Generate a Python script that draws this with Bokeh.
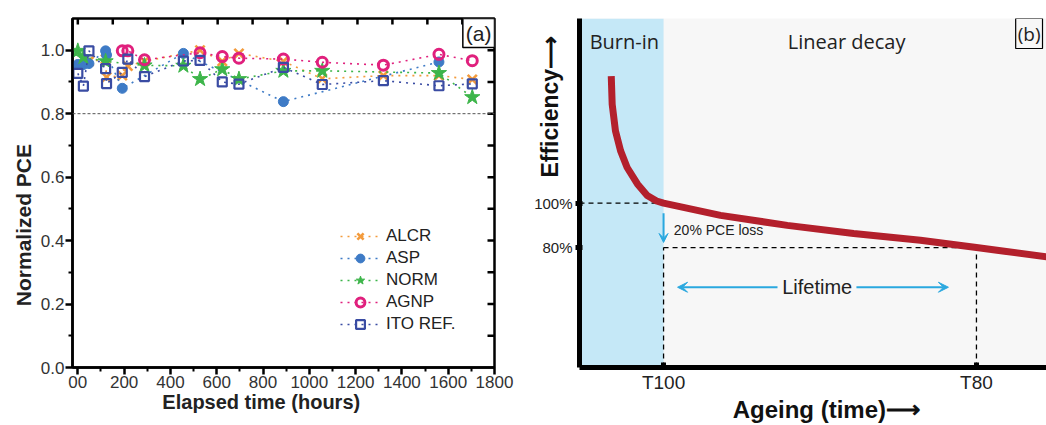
import math
from bokeh.plotting import figure
from bokeh.layouts import row
from bokeh.models import (Range1d, LinearAxis, FixedTicker, Span, Legend, LegendItem,
                          Label, Arrow, VeeHead, BoxAnnotation, PrintfTickFormatter)
from bokeh.embed import file_html
from bokeh.resources import INLINE

# ---------------- Panel (a) data ----------------
alcr_hours = [48, 120, 124, 192, 216, 288, 528, 624, 696, 888, 1056, 1320, 1560, 1704]
alcr_pce = [0.965, 0.972, 0.915, 0.92, 0.95, 0.965, 1.0, 0.965, 0.99, 0.965, 0.91, 0.92, 0.92, 0.908]

asp_hours = [0, 24, 48, 120, 124, 192, 456, 888, 1560]
asp_pce = [0.955, 0.955, 0.958, 0.998, 0.985, 0.88, 0.99, 0.838, 0.963]

norm_hours = [0, 24, 120, 288, 456, 528, 624, 696, 888, 1056, 1560, 1704]
norm_pce = [0.998, 0.978, 0.965, 0.952, 0.951, 0.909, 0.94, 0.909, 0.935, 0.935, 0.928, 0.852]

agnp_hours = [192, 216, 288, 528, 624, 696, 888, 1056, 1320, 1560, 1704]
agnp_pce = [0.998, 0.998, 0.97, 0.992, 0.98, 0.975, 0.972, 0.962, 0.953, 0.987, 0.967]

ito_hours = [0, 24, 48, 120, 124, 192, 216, 288, 456, 528, 624, 696, 888, 1056, 1320, 1560, 1704]
ito_pce = [0.927, 0.887, 0.998, 0.942, 0.895, 0.93, 0.972, 0.917, 0.966, 0.968, 0.9, 0.893, 0.946, 0.892, 0.904, 0.888, 0.894]

series_names = ["ALCR", "ASP", "NORM", "AGNP", "ITO REF."]
x_ticks_a = [0, 200, 400, 600, 800, 1000, 1200, 1400, 1600, 1800]
x_minor_a = [100, 300, 500, 700, 900, 1100, 1300, 1500, 1700]
x_label_override_a = {0: "00"}
top_ticks_a = [0, 151, 302, 453, 604, 755, 906, 1057, 1208, 1359, 1510, 1661]
y_ticks_a = [0.0, 0.2, 0.4, 0.6, 0.8, 1.0]
y_minor_a = [0.1, 0.3, 0.5, 0.7, 0.9]
right_ticks_a = [0.1, 0.2, 0.3, 0.4, 0.5, 0.6, 0.7, 0.8, 0.9, 1.0]
threshold_a = 0.8

# ---------------- Panel (b) data ----------------
curve_time = [6.8, 7.0, 7.7, 8.8, 10.2, 12.4, 14.5, 16.5, 18.0, 30.2, 44.5, 58.7, 73.0, 85.0, 100.0]
curve_eff = [157.3, 144.6, 132.6, 123.6, 116.1, 108.7, 103.5, 101.0, 100.0, 94.5, 90.0, 86.3, 83.3, 80.0, 75.8]
T100 = 18
T80 = 85
E100 = 100
E80 = 80
x_tick_labels_b = {18: "T100", 85: "T80"}
y_tick_labels_b = {80: "80%", 100: "100%"}
Y_MIN_B, Y_MAX_B = 25.9, 183.3

FONT = "Liberation Sans"
NB = "\u00a0"
COLORS = {"ALCR": "#F39B3C", "ASP": "#3E7BC6", "NORM": "#3DB54A", "AGNP": "#E0207D", "ITO REF.": "#3A4CA3"}

# ================= Panel (a) =================
XA0, XA1, YA0, YA1 = -23, 1800, 0, 1.1
p1 = figure(width=515, height=425, x_range=Range1d(XA0, XA1), y_range=Range1d(YA0, YA1),
            output_backend="svg", toolbar_location=None, x_axis_type=None, y_axis_type=None,
            min_border_left=72, min_border_right=21, min_border_top=18, min_border_bottom=55)
p1.outline_line_color = "black"
p1.outline_line_width = 2.5


def style_axis(ax):
    ax.axis_line_width = 2.5
    ax.axis_line_color = "black"
    ax.major_tick_line_width = 2.5
    ax.minor_tick_line_width = 2
    ax.major_tick_out = 7
    ax.major_tick_in = 0
    ax.minor_tick_out = 4
    ax.minor_tick_in = 0
    ax.major_label_text_font = FONT
    ax.major_label_text_font_size = "17px"
    ax.major_label_text_color = "#333333"
    ax.major_label_standoff = 1
    ax.axis_label_text_font = FONT
    ax.axis_label_text_font_style = "bold"
    ax.axis_label_text_color = "#222222"
    ax.axis_label_standoff = 0


xa = LinearAxis(ticker=FixedTicker(ticks=x_ticks_a, minor_ticks=x_minor_a),
                major_label_overrides=x_label_override_a,
                axis_label="Elapsed time (hours)" + NB * 8)
style_axis(xa)
xa.axis_label_text_font_size = "20px"
p1.add_layout(xa, "below")

ya = LinearAxis(ticker=FixedTicker(ticks=y_ticks_a, minor_ticks=y_minor_a),
                formatter=PrintfTickFormatter(format="%.1f"),
                axis_label="Normalized PCE" + NB * 11)
style_axis(ya)
ya.axis_label_standoff = 3
ya.axis_label_text_font_size = "21px"
p1.add_layout(ya, "left")

# inward mirror ticks on the top and right frame edges
frame_w_a, frame_h_a = 422, 352
top_len = 6 * (YA1 - YA0) / frame_h_a
right_len = 7 * (XA1 - XA0) / frame_w_a
p1.segment(x0=top_ticks_a, y0=[YA1] * len(top_ticks_a), x1=top_ticks_a,
           y1=[YA1 - top_len] * len(top_ticks_a), line_color="black", line_width=2.5)
p1.segment(x0=[XA1] * len(right_ticks_a), y0=right_ticks_a, x1=[XA1 - right_len] * len(right_ticks_a),
           y1=right_ticks_a, line_color="black", line_width=2.5)

p1.add_layout(Span(location=threshold_a, dimension="width", line_color="#555555",
                   line_dash="3 2", line_width=1))

series = [
    ("ALCR", alcr_hours, alcr_pce, dict(marker="x", size=13, line_width=2.6)),
    ("ASP", asp_hours, asp_pce, dict(marker="circle", size=10, line_width=1)),
    ("NORM", norm_hours, norm_pce, dict(marker="star", size=16, line_width=1)),
    ("AGNP", agnp_hours, agnp_pce, dict(marker="circle", size=10, line_width=3, fill_color=None)),
    ("ITO REF.", ito_hours, ito_pce, dict(marker="square", size=9, line_width=2.2, fill_color=None)),
]
items = []
for name, t, v, mk in series:
    c = COLORS[name]
    rl = p1.line(t, v, line_color=c, line_dash="2 5", line_width=1.6)
    kw = dict(mk)
    kw.setdefault("fill_color", c)
    rm = p1.scatter(t, v, line_color=c, **kw)
    items.append(LegendItem(label=name, renderers=[rl, rm]))

legend = Legend(items=items, location=(268, 32), orientation="vertical",
                label_text_font=FONT, label_text_font_size="17px", label_text_color="#222222",
                glyph_width=40, glyph_height=22, label_height=22, label_standoff=6,
                spacing=0, padding=0, margin=0, background_fill_alpha=0, border_line_color=None)
p1.add_layout(legend)

p1.add_layout(Label(x=XA1, y=YA1, text="(a)", text_align="right", text_baseline="top",
                    text_font=FONT, text_font_size="21px", text_color="#222222",
                    border_line_color="black", border_line_width=1.5,
                    background_fill_color="white", padding=3))

# ================= Panel (b) =================
p2 = figure(width=531, height=425, x_range=Range1d(0, 100), y_range=Range1d(Y_MIN_B, Y_MAX_B),
            output_backend="svg", toolbar_location=None, x_axis_type=None, y_axis_type=None,
            min_border_left=64, min_border_right=0, min_border_top=17, min_border_bottom=57)
p2.outline_line_color = None
p2.background_fill_color = "#F7F7F7"
p2.add_layout(BoxAnnotation(left=0, right=T100, fill_color="#C5E8F7", fill_alpha=1,
                            line_color=None, level="underlay"))

xb = LinearAxis(ticker=FixedTicker(ticks=[T100, T80], minor_ticks=[]),
                major_label_overrides=x_tick_labels_b,
                axis_label=NB * 4 + "Ageing (time)\u27f6")
xb.axis_line_width = 5
xb.major_tick_line_width = 5
xb.major_tick_in = 5
xb.major_tick_out = 1
xb.major_label_text_font = FONT
xb.major_label_text_font_size = "19px"
xb.major_label_text_color = "#222222"
xb.major_label_standoff = 3
xb.axis_label_text_font = FONT
xb.axis_label_text_font_style = "bold"
xb.axis_label_text_font_size = "24px"
xb.axis_label_text_color = "#111111"
xb.axis_label_standoff = 0
p2.add_layout(xb, "below")

yb = LinearAxis(ticker=FixedTicker(ticks=[E80, E100], minor_ticks=[]),
                major_label_overrides=y_tick_labels_b,
                axis_label=NB * 27 + "Efficiency\u27f6")
yb.axis_line_width = 5
yb.major_tick_line_width = 5
yb.major_tick_in = 3
yb.major_tick_out = 4
yb.major_label_text_font = FONT
yb.major_label_text_font_size = "15px"
yb.major_label_text_color = "#222222"
yb.major_label_standoff = 3
yb.axis_label_text_font = FONT
yb.axis_label_text_font_style = "bold"
yb.axis_label_text_font_size = "23px"
yb.axis_label_text_color = "#111111"
yb.axis_label_standoff = -32
p2.add_layout(yb, "left")

p2.segment(x0=[0, T100, T100, T80], y0=[E100, E80, Y_MIN_B, Y_MIN_B],
           x1=[T100, T80, T100, T80], y1=[E100, E80, E80, E80],
           line_color="black", line_dash="5 4", line_width=1.3)

p2.line(curve_time, curve_eff, line_color="#B3202C", line_width=7, line_join="round")

BLUE = "#2AA8DF"
p2.add_layout(Arrow(x_start=T100, y_start=95.5, x_end=T100, y_end=82.3,
                    line_color=BLUE, line_width=2,
                    end=VeeHead(size=9, fill_color=BLUE, line_color=BLUE, line_width=1)))
p2.add_layout(Arrow(x_start=42.4, y_start=62.1, x_end=21.0, y_end=62.1,
                    line_color=BLUE, line_width=2,
                    end=VeeHead(size=10, fill_color=BLUE, line_color=BLUE, line_width=1)))
p2.add_layout(Arrow(x_start=59.3, y_start=62.1, x_end=79.0, y_end=62.1,
                    line_color=BLUE, line_width=2,
                    end=VeeHead(size=10, fill_color=BLUE, line_color=BLUE, line_width=1)))

p2.add_layout(Label(x=50.9, y=62.1, text="Lifetime", text_align="center", text_baseline="middle",
                    text_font=FONT, text_font_size="20px", text_color="#222222"))
p2.add_layout(Label(x=20.2, y=87.8, text="20% PCE loss", text_align="left", text_baseline="middle",
                    text_font=FONT, text_font_size="14px", text_color="#222222"))
p2.add_layout(Label(x=9.6, y=173, text="Burn-in", text_align="center", text_baseline="alphabetic",
                    text_font="Open Sans", text_font_size="20px", text_color="#222222"))
p2.add_layout(Label(x=57.2, y=173, text="Linear decay", text_align="center", text_baseline="alphabetic",
                    text_font="Open Sans", text_font_size="20px", text_color="#222222"))
p2.add_layout(Label(x=93.4, y=Y_MAX_B, text="(b)", text_align="left", text_baseline="top",
                    text_font="Open Sans", text_font_size="19px", text_color="#222222",
                    border_line_color="black", border_line_width=1.2, padding=2))

layout = row(p1, p2)
open("out.html", "w").write(file_html(layout, INLINE))
